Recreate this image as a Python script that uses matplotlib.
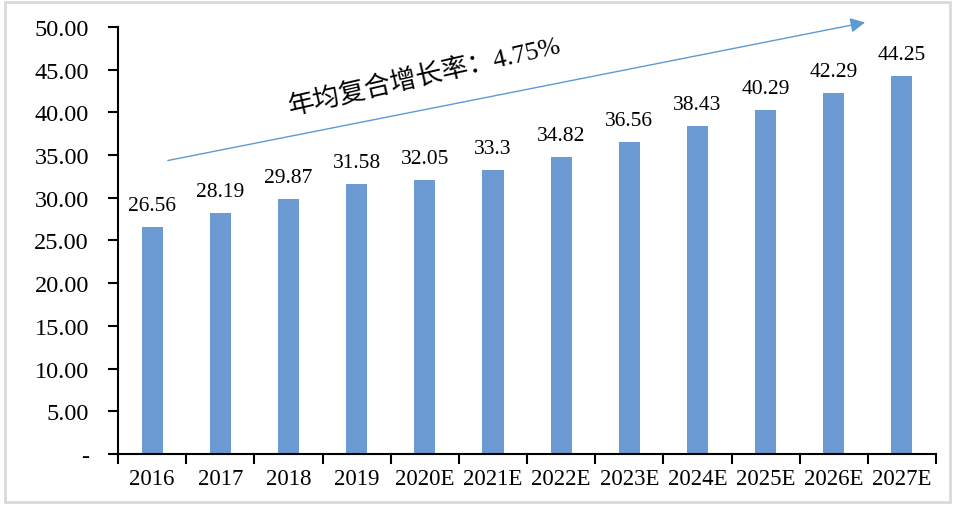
import numpy as np
import matplotlib
matplotlib.use("Agg")
import matplotlib.pyplot as plt
from matplotlib.patches import Rectangle

plt.rcParams['font.family'] = ['Liberation Serif', 'Noto Sans CJK SC']

# data
years = ["2016", "2017", "2018", "2019", "2020E", "2021E", "2022E",
         "2023E", "2024E", "2025E", "2026E", "2027E"]
values = [26.56, 28.19, 29.87, 31.58, 32.05, 33.3, 34.82,
          36.56, 38.43, 40.29, 42.29, 44.25]
value_labels = ["26.56", "28.19", "29.87", "31.58", "32.05", "33.3", "34.82",
                "36.56", "38.43", "40.29", "42.29", "44.25"]
y_ticks = [0, 5, 10, 15, 20, 25, 30, 35, 40, 45, 50]
y_tick_labels = ["-", "5.00", "10.00", "15.00", "20.00", "25.00", "30.00",
                 "35.00", "40.00", "45.00", "50.00"]
cagr_text = "年均复合增长率：4.75%"

bar_color = "#6B9BD2"
arrow_color = "#5B9BD5"

fig = plt.figure(figsize=(9.55, 5.06), dpi=100)
ax = fig.add_axes([0.1236, 0.1008, 0.8565, 0.8439])

x = np.arange(len(years))
ax.bar(x, values, width=0.31, color=bar_color, zorder=2)

for xi, v, lab in zip(x, values, value_labels):
    ax.text(xi, v + 1.4, lab, ha='center', va='bottom', fontsize=15.5)

ax.set_xlim(-0.5, len(years) - 0.5)
ax.set_ylim(0, 50)
ax.set_yticks(y_ticks)
ax.set_yticklabels(y_tick_labels, fontsize=17.5)
ax.set_xticks(x)
ax.set_xticklabels(years, fontsize=16.5)
ax.tick_params(axis='x', length=0, pad=10)
ax.tick_params(axis='y', length=7, width=1.5, direction='out', pad=14)

# category boundary ticks on x axis
for b in np.arange(-0.5, len(years), 1.0):
    ax.plot([b, b], [0, -1.0], color='black', lw=1.5, clip_on=False)

for side in ['top', 'right']:
    ax.spines[side].set_visible(False)
ax.spines['left'].set_linewidth(1.5)
ax.spines['bottom'].set_linewidth(1.5)

# growth arrow and text
ax.annotate("", xy=(10.5, 50.6), xytext=(0.19, 34.3),
            arrowprops=dict(arrowstyle='-|>', color=arrow_color, lw=1.0,
                            mutation_scale=22),
            annotation_clip=False)
ax.text(4.0, 44.4, cagr_text, ha='center', va='center', fontsize=19,
        rotation=13, family=['Liberation Serif', 'Noto Sans CJK SC'])

# light frame around the figure
fig.patches.append(Rectangle((0.005, 0.006), 0.99, 0.988, transform=fig.transFigure,
                             fill=False, edgecolor='#d9d9d9', lw=2))

fig.savefig("out.png", dpi=100)
